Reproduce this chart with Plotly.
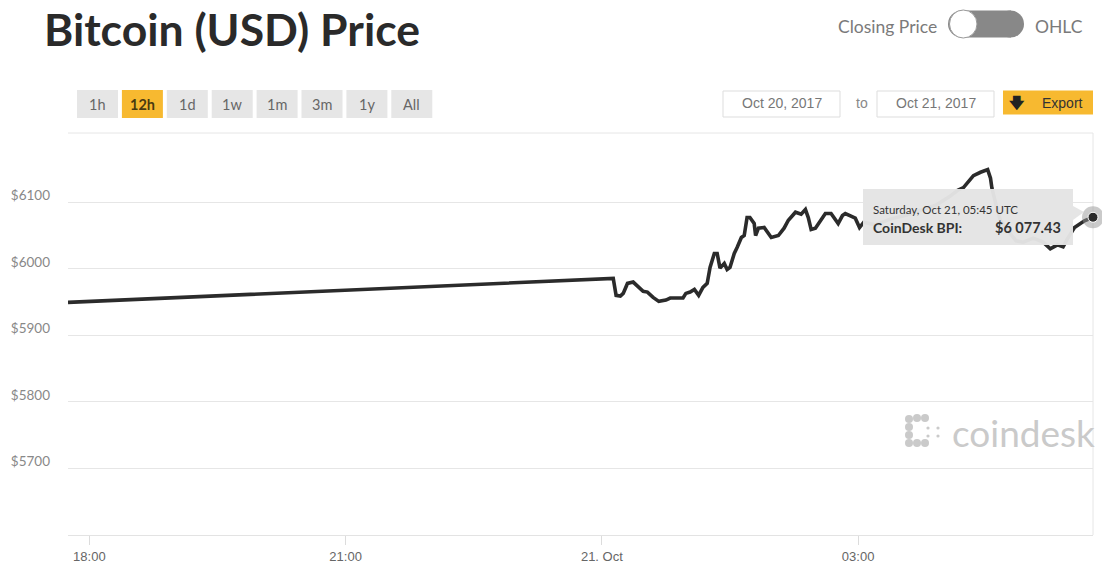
import plotly.graph_objects as go

# ---------------- data ----------------
times = [
    "2017-10-20 17:45", "2017-10-21 00:08", "2017-10-21 00:10", "2017-10-21 00:13",
    "2017-10-21 00:15", "2017-10-21 00:18", "2017-10-21 00:22", "2017-10-21 00:25",
    "2017-10-21 00:29", "2017-10-21 00:32", "2017-10-21 00:36", "2017-10-21 00:40",
    "2017-10-21 00:45", "2017-10-21 00:48", "2017-10-21 00:53", "2017-10-21 00:57",
    "2017-10-21 00:59", "2017-10-21 01:02", "2017-10-21 01:05", "2017-10-21 01:08",
    "2017-10-21 01:11", "2017-10-21 01:14", "2017-10-21 01:16", "2017-10-21 01:19",
    "2017-10-21 01:21", "2017-10-21 01:23", "2017-10-21 01:26", "2017-10-21 01:28",
    "2017-10-21 01:30", "2017-10-21 01:33", "2017-10-21 01:35", "2017-10-21 01:38",
    "2017-10-21 01:40", "2017-10-21 01:42", "2017-10-21 01:44", "2017-10-21 01:47",
    "2017-10-21 01:48", "2017-10-21 01:50", "2017-10-21 01:54", "2017-10-21 01:56",
    "2017-10-21 01:59", "2017-10-21 02:04", "2017-10-21 02:08", "2017-10-21 02:11",
    "2017-10-21 02:16", "2017-10-21 02:20", "2017-10-21 02:23", "2017-10-21 02:25",
    "2017-10-21 02:27", "2017-10-21 02:30", "2017-10-21 02:34", "2017-10-21 02:37",
    "2017-10-21 02:41", "2017-10-21 02:44", "2017-10-21 02:46", "2017-10-21 02:49",
    "2017-10-21 02:51", "2017-10-21 02:55", "2017-10-21 02:58", "2017-10-21 03:01",
    "2017-10-21 03:04", "2017-10-21 03:12", "2017-10-21 03:23", "2017-10-21 03:33",
    "2017-10-21 03:44", "2017-10-21 03:55", "2017-10-21 04:04", "2017-10-21 04:10",
    "2017-10-21 04:14", "2017-10-21 04:17", "2017-10-21 04:21", "2017-10-21 04:26",
    "2017-10-21 04:31", "2017-10-21 04:33", "2017-10-21 04:34", "2017-10-21 04:37",
    "2017-10-21 04:40", "2017-10-21 04:46", "2017-10-21 04:51", "2017-10-21 04:56",
    "2017-10-21 05:03", "2017-10-21 05:10", "2017-10-21 05:15", "2017-10-21 05:20",
    "2017-10-21 05:24", "2017-10-21 05:27", "2017-10-21 05:32", "2017-10-21 05:39",
    "2017-10-21 05:45",
]
prices = [
    5949.5, 5985.5, 5960, 5959,
    5963, 5978, 5980, 5974,
    5966, 5965, 5957, 5951,
    5953, 5956, 5956, 5956,
    5963, 5965, 5969, 5960,
    5972, 5978, 6002, 6023,
    6023, 6001, 6008, 5999,
    6002, 6023, 6032, 6047,
    6050, 6077, 6077, 6068,
    6050, 6061, 6062, 6055,
    6047, 6050, 6061, 6073,
    6085, 6082, 6089, 6077,
    6059, 6061, 6073, 6083,
    6083, 6073, 6068, 6080,
    6083, 6079, 6076, 6062,
    6070, 6066, 6075, 6080,
    6088, 6096, 6108, 6118,
    6122, 6130, 6140, 6145,
    6149, 6136, 6121, 6095,
    6072, 6055, 6042, 6040,
    6046, 6040, 6030, 6036,
    6033, 6045, 6062, 6072,
    6077.43,
]

x_tick_vals = ["2017-10-20 18:00", "2017-10-20 21:00", "2017-10-21 00:00", "2017-10-21 03:00"]
x_tick_text = ["18:00", "21:00", "21. Oct", "03:00"]
y_tick_vals = [5700, 5800, 5900, 6000, 6100]
y_tick_text = ["$5700", "$5800", "$5900", "$6000", "$6100"]

range_buttons = ["1h", "12h", "1d", "1w", "1m", "3m", "1y", "All"]
active_button = "12h"
date_from = "Oct 20, 2017"
date_to = "Oct 21, 2017"
tooltip_date = "Saturday, Oct 21, 05:45 UTC"
tooltip_label = "CoinDesk BPI:"
tooltip_value = "$6 077.43"

# ---------------- geometry (screen pixels) ----------------
W, H = 1102, 568
PL, PR, PT, PB = 68, 1093, 133, 535  # plot area


def X(px):
    return (px - PL) / (PR - PL)


def Y(py):
    return (PB - py) / (PB - PT)


fig = go.Figure()

fig.add_trace(go.Scatter(
    x=times, y=prices, mode="lines",
    line=dict(color="#2b2b2b", width=3.6),
    hoverinfo="skip",
))
# highlighted last point (halo + dot)
fig.add_trace(go.Scatter(
    x=[times[-1]], y=[prices[-1]], mode="markers",
    marker=dict(size=22, color="rgba(150,150,150,0.5)", line=dict(width=0)),
    cliponaxis=False, hoverinfo="skip",
))
fig.add_trace(go.Scatter(
    x=[times[-1]], y=[prices[-1]], mode="markers",
    marker=dict(size=10, color="#2b2b2b", line=dict(color="#ffffff", width=1)),
    cliponaxis=False, hoverinfo="skip",
))

shapes = []
annotations = []

# plot frame (top + right)
shapes.append(dict(type="line", xref="paper", yref="paper", x0=0, x1=1, y0=1, y1=1, layer="below",
                   line=dict(color="#e6e6e6", width=1)))
shapes.append(dict(type="line", xref="paper", yref="paper", x0=1, x1=1, y0=0, y1=1, layer="below",
                   line=dict(color="#e6e6e6", width=1)))

# title
annotations.append(dict(xref="paper", yref="paper", x=X(42), y=Y(28.5), xanchor="left", yanchor="middle",
                        text="<b>Bitcoin (USD) Price</b>", showarrow=False,
                        font=dict(family="Lato", size=44.5, color="#2a2a2a")))

# toggle
annotations.append(dict(xref="paper", yref="paper", x=X(939), y=Y(27), xanchor="right", yanchor="middle",
                        text="Closing Price", showarrow=False,
                        font=dict(family="Lato", size=17.5, color="#7a7a7a")))
annotations.append(dict(xref="paper", yref="paper", x=X(1033), y=Y(27), xanchor="left", yanchor="middle",
                        text="OHLC", showarrow=False,
                        font=dict(family="Lato", size=17.5, color="#7a7a7a")))
pill = "#888888"
shapes.append(dict(type="circle", xref="paper", yref="paper", x0=X(948), x1=X(975), y0=Y(37.5), y1=Y(10.5),
                   fillcolor=pill, line=dict(width=0)))
shapes.append(dict(type="circle", xref="paper", yref="paper", x0=X(997), x1=X(1024), y0=Y(37.5), y1=Y(10.5),
                   fillcolor=pill, line=dict(width=0)))
shapes.append(dict(type="rect", xref="paper", yref="paper", x0=X(961), x1=X(1011), y0=Y(37.5), y1=Y(10.5),
                   fillcolor=pill, line=dict(width=0)))
shapes.append(dict(type="circle", xref="paper", yref="paper", x0=X(949.5), x1=X(977), y0=Y(38), y1=Y(10),
                   fillcolor="#ffffff", line=dict(color="#9a9a9a", width=1)))

# range buttons
for i, lab in enumerate(range_buttons):
    x0 = 77 + i * 44.9
    active = lab == active_button
    shapes.append(dict(type="rect", xref="paper", yref="paper", x0=X(x0), x1=X(x0 + 41), y0=Y(118), y1=Y(90),
                       fillcolor="#f7b930" if active else "#e6e6e6", line=dict(width=0)))
    annotations.append(dict(xref="paper", yref="paper", x=X(x0 + 20.5), y=Y(104), xanchor="center",
                            yanchor="middle", showarrow=False,
                            text=f"<b>{lab}</b>" if active else lab,
                            font=dict(family="Lato", size=14.5, color="#4a3a10" if active else "#666666")))

# date inputs
for (x0, x1, txt) in [(723, 840, date_from), (877, 994, date_to)]:
    shapes.append(dict(type="rect", xref="paper", yref="paper", x0=X(x0), x1=X(x1), y0=Y(117), y1=Y(91),
                       fillcolor="#ffffff", line=dict(color="#dddddd", width=1)))
    annotations.append(dict(xref="paper", yref="paper", x=X((x0 + x1) / 2), y=Y(103), xanchor="center",
                            yanchor="middle", showarrow=False, text=txt,
                            font=dict(family="Liberation Sans", size=14, color="#777777")))
annotations.append(dict(xref="paper", yref="paper", x=X(862), y=Y(103), xanchor="center", yanchor="middle",
                        showarrow=False, text="to",
                        font=dict(family="Liberation Sans", size=14, color="#888888")))
# export button
shapes.append(dict(type="rect", xref="paper", yref="paper", x0=X(1003), x1=X(1093), y0=Y(114.5), y1=Y(90.5),
                   fillcolor="#f7b930", line=dict(width=0)))
annotations.append(dict(xref="paper", yref="paper", x=X(1017), y=Y(102.5), xanchor="center", yanchor="middle",
                        showarrow=False, text="<b>🡇</b>",
                        font=dict(family="DejaVu Sans", size=15, color="#222222")))
annotations.append(dict(xref="paper", yref="paper", x=X(1062), y=Y(102.5), xanchor="center", yanchor="middle",
                        showarrow=False, text="Export",
                        font=dict(family="Liberation Sans", size=14, color="#333333")))

# watermark logo
wm = "#cacaca"
for (cx, cy) in [(909, 419), (917, 418), (925, 418), (909, 427), (909, 435), (909, 443), (917, 443),
                 (925, 443)]:
    shapes.append(dict(type="circle", xref="paper", yref="paper", x0=X(cx - 4), x1=X(cx + 4),
                       y0=Y(cy + 4), y1=Y(cy - 4), fillcolor=wm, line=dict(width=0), layer="below"))
for (cx, cy) in [(928, 428), (938, 428), (928, 436), (938, 436)]:
    shapes.append(dict(type="circle", xref="paper", yref="paper", x0=X(cx - 1.6), x1=X(cx + 1.6),
                       y0=Y(cy + 1.6), y1=Y(cy - 1.6), fillcolor=wm, line=dict(width=0), layer="below"))
annotations.append(dict(xref="paper", yref="paper", x=X(950), y=Y(432), xanchor="left", yanchor="middle",
                        showarrow=False, text="coindesk",
                        font=dict(family="Lato", size=37, color=wm)))

# tooltip
shapes.append(dict(type="path", xref="paper", yref="paper",
                   path=f"M {X(863)},{Y(189)} L {X(1073)},{Y(189)} L {X(1073)},{Y(206)} L {X(1084)},{Y(212)} "
                        f"L {X(1073)},{Y(220)} L {X(1073)},{Y(245)} L {X(863)},{Y(245)} Z",
                   fillcolor="rgba(228,228,228,0.97)", line=dict(width=0), layer="above"))
annotations.append(dict(xref="paper", yref="paper", x=X(871), y=Y(209), xanchor="left", yanchor="middle",
                        showarrow=False, text=tooltip_date,
                        font=dict(family="Lato", size=11.5, color="#333333")))
annotations.append(dict(xref="paper", yref="paper", x=X(871), y=Y(227), xanchor="left", yanchor="middle",
                        showarrow=False, text=f"<b>{tooltip_label}</b>",
                        font=dict(family="Lato", size=14, color="#333333")))
annotations.append(dict(xref="paper", yref="paper", x=X(1063), y=Y(227), xanchor="right", yanchor="middle",
                        showarrow=False, text=f"<b>{tooltip_value}</b>",
                        font=dict(family="Lato", size=14.5, color="#333333")))

fig.update_layout(
    width=W, height=H,
    margin=dict(l=PL, r=W - PR, t=PT, b=H - PB, pad=0, autoexpand=False),
    paper_bgcolor="#ffffff", plot_bgcolor="#ffffff",
    showlegend=False, hovermode=False,
    shapes=shapes, annotations=annotations,
    xaxis=dict(
        type="date", range=["2017-10-20 17:45", "2017-10-21 05:45"],
        tickvals=x_tick_vals, ticktext=x_tick_text,
        showgrid=False, zeroline=False, automargin=False,
        showline=True, linecolor="#e3e3e3", linewidth=1,
        ticks="outside", ticklen=9, tickcolor="#dcdcdc", tickwidth=1,
        tickfont=dict(family="Liberation Sans", size=13, color="#666666"),
        fixedrange=True,
    ),
    yaxis=dict(
        range=[5600, 6204],
        tickvals=y_tick_vals, ticktext=y_tick_text,
        showgrid=True, gridcolor="#e6e6e6", gridwidth=1,
        zeroline=False, showline=False, ticks="", automargin=False,
        ticklabelstandoff=17, ticklabelshift=-7,
        tickfont=dict(family="Lato", size=13.5, color="#888888"),
        fixedrange=True,
    ),
)

fig.write_html(
    "out.html",
    config={"displayModeBar": False},
    post_script="document.body.style.margin='0';document.body.style.overflow='hidden';",
)
